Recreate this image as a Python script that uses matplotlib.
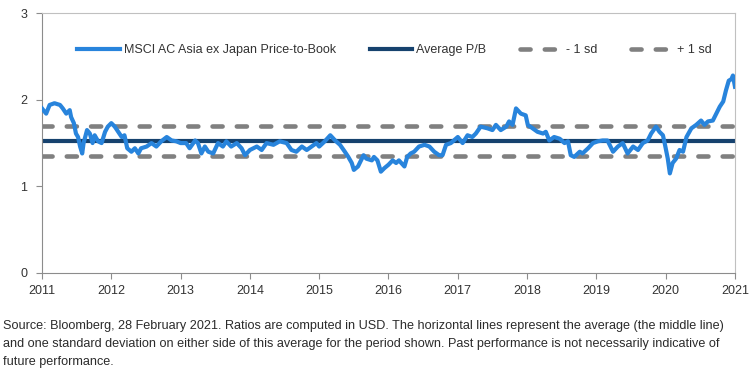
#!/usr/bin/env python3

import matplotlib
matplotlib.use("Agg")
import matplotlib.pyplot as plt

plt.rcParams['font.family'] = ['Liberation Sans', 'DejaVu Sans']

# decimal years and P/B
years = [
    2011.00, 2011.06, 2011.11, 2011.18, 2011.26, 2011.30, 2011.35, 2011.40, 2011.42, 2011.46,
    2011.49, 2011.52, 2011.55, 2011.58, 2011.60, 2011.65, 2011.69, 2011.73, 2011.76, 2011.81,
    2011.86, 2011.91, 2011.95, 2012.00, 2012.05, 2012.10, 2012.15, 2012.19, 2012.23, 2012.29,
    2012.34, 2012.39, 2012.43, 2012.51, 2012.58, 2012.65, 2012.72, 2012.80, 2012.87, 2012.94,
    2013.00, 2013.08, 2013.13, 2013.21, 2013.25, 2013.30, 2013.35, 2013.40, 2013.47, 2013.54,
    2013.61, 2013.66, 2013.73, 2013.81, 2013.88, 2013.93, 2014.00, 2014.10, 2014.17, 2014.24,
    2014.34, 2014.43, 2014.53, 2014.60, 2014.67, 2014.75, 2014.82, 2014.89, 2014.96, 2015.00,
    2015.08, 2015.16, 2015.23, 2015.30, 2015.37, 2015.42, 2015.47, 2015.50, 2015.56, 2015.64,
    2015.68, 2015.76, 2015.79, 2015.84, 2015.89, 2015.94, 2016.00, 2016.06, 2016.11, 2016.15,
    2016.23, 2016.27, 2016.32, 2016.37, 2016.44, 2016.52, 2016.59, 2016.66, 2016.73, 2016.78,
    2016.83, 2016.90, 2017.00, 2017.07, 2017.14, 2017.21, 2017.26, 2017.33, 2017.43, 2017.50,
    2017.55, 2017.62, 2017.70, 2017.74, 2017.79, 2017.84, 2017.91, 2017.98, 2018.01, 2018.08,
    2018.15, 2018.23, 2018.27, 2018.32, 2018.39, 2018.47, 2018.54, 2018.59, 2018.63, 2018.68,
    2018.76, 2018.80, 2018.88, 2018.95, 2019.02, 2019.09, 2019.16, 2019.24, 2019.31, 2019.38,
    2019.45, 2019.53, 2019.60, 2019.67, 2019.74, 2019.79, 2019.86, 2019.91, 2019.96, 2019.99,
    2020.03, 2020.06, 2020.10, 2020.15, 2020.20, 2020.25, 2020.30, 2020.37, 2020.44, 2020.51,
    2020.56, 2020.61, 2020.68, 2020.73, 2020.78, 2020.83, 2020.87, 2020.91, 2020.95, 2020.97,
    2021.00,
]
pb = [
    1.90, 1.84, 1.94, 1.96, 1.94, 1.90, 1.84, 1.88, 1.80, 1.73,
    1.61, 1.57, 1.46, 1.38, 1.50, 1.65, 1.61, 1.50, 1.59, 1.52,
    1.50, 1.63, 1.69, 1.73, 1.69, 1.63, 1.57, 1.59, 1.44, 1.40,
    1.44, 1.38, 1.44, 1.46, 1.50, 1.46, 1.52, 1.57, 1.53, 1.52,
    1.50, 1.50, 1.44, 1.53, 1.50, 1.38, 1.46, 1.40, 1.38, 1.50,
    1.46, 1.52, 1.46, 1.50, 1.44, 1.36, 1.42, 1.46, 1.42, 1.50,
    1.48, 1.52, 1.50, 1.42, 1.40, 1.46, 1.42, 1.46, 1.50, 1.46,
    1.52, 1.59, 1.53, 1.48, 1.40, 1.34, 1.27, 1.19, 1.23, 1.36,
    1.32, 1.30, 1.34, 1.30, 1.17, 1.21, 1.25, 1.30, 1.27, 1.30,
    1.23, 1.34, 1.38, 1.40, 1.46, 1.48, 1.46, 1.40, 1.36, 1.36,
    1.48, 1.50, 1.57, 1.50, 1.59, 1.57, 1.61, 1.69, 1.67, 1.65,
    1.71, 1.65, 1.69, 1.75, 1.71, 1.90, 1.84, 1.82, 1.71, 1.67,
    1.63, 1.61, 1.63, 1.53, 1.57, 1.55, 1.50, 1.52, 1.36, 1.34,
    1.40, 1.38, 1.44, 1.50, 1.52, 1.53, 1.53, 1.40, 1.46, 1.50,
    1.38, 1.46, 1.42, 1.50, 1.53, 1.61, 1.69, 1.63, 1.59, 1.48,
    1.32, 1.15, 1.27, 1.32, 1.42, 1.40, 1.57, 1.67, 1.71, 1.76,
    1.71, 1.75, 1.76, 1.84, 1.92, 1.98, 2.11, 2.22, 2.24, 2.28,
    2.15,
]
average = 1.527
plus_sd = 1.695
minus_sd = 1.354

year_ticks = list(range(2011, 2022))

caption = ("Source: Bloomberg, 28 February 2021. Ratios are computed in USD. The horizontal lines represent the average (the middle line)\n"
           "and one standard deviation on either side of this average for the period shown. Past performance is not necessarily indicative of\n"
           "future performance.")


def main():
    fig = plt.figure(figsize=(7.5, 3.76), dpi=100)
    ax = fig.add_axes([0.056, 0.274, 0.924, 0.691])

    gray = '#808080'
    dash_kw = dict(color=gray, lw=3.3, dashes=(2.2, 3.1), dash_capstyle='round')

    ax.plot(years, pb, color='#2884dc', lw=3.0, solid_joinstyle='round',
            label='MSCI AC Asia ex Japan Price-to-Book', zorder=3)
    ax.axhline(average, color='#16426e', lw=3.0, label='Average P/B', zorder=2)
    ax.axhline(plus_sd, label='- 1 sd', zorder=1, **dash_kw)
    ax.axhline(minus_sd, label='+ 1 sd', zorder=1, **dash_kw)

    ax.set_xlim(2011, 2021)
    ax.set_ylim(0, 3)
    ax.set_xticks(year_ticks)
    ax.set_xticklabels([str(y) for y in year_ticks])
    ax.set_yticks([0, 1, 2, 3])

    for s in ['left', 'bottom']:
        ax.spines[s].set_color('#8c8c8c')
    for s in ['top', 'right']:
        ax.spines[s].set_color('#c0c0c0')
    ax.tick_params(axis='both', colors='#8c8c8c', labelcolor='#333333',
                   labelsize=9, length=4.5, direction='out')
    ax.tick_params(axis='x', pad=4)
    ax.tick_params(axis='y', pad=6)

    leg = ax.legend(loc='center', bbox_to_anchor=(0.509, 0.858), ncol=4,
                    frameon=False, fontsize=9, handlelength=3.4,
                    columnspacing=2.7, handletextpad=0.3)
    for t in leg.get_texts():
        t.set_color('#333333')

    fig.text(0.004, 0.148, caption, fontsize=9.1, color='#2b2b2b',
             ha='left', va='top', linespacing=1.62)

    fig.savefig('out.png', dpi=100)


if __name__ == "__main__":
    main()
